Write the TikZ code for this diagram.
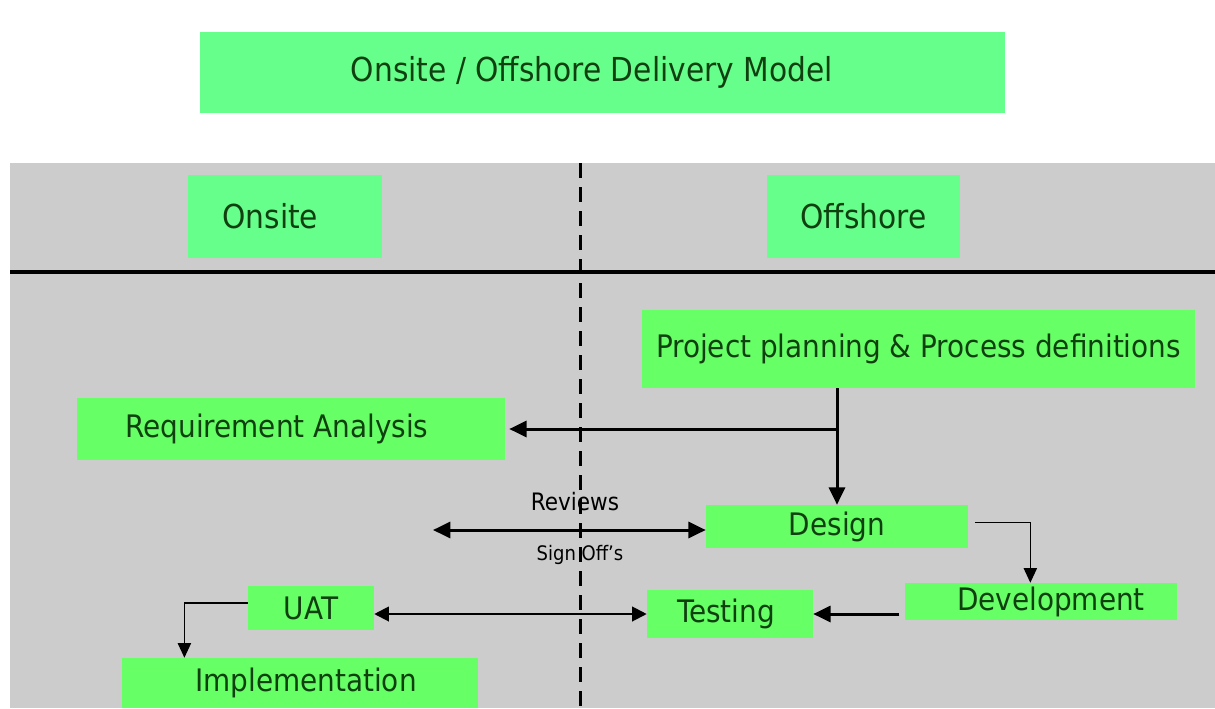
\documentclass[tikz,border=0pt]{standalone}
\usepackage{fontspec}
\setmainfont{DejaVu Sans Condensed}
\usetikzlibrary{arrows.meta}
\definecolor{boxgreen}{RGB}{102,255,102}
\definecolor{headgreen}{RGB}{102,255,140}
\definecolor{bggray}{RGB}{204,204,204}
\definecolor{txtgreen}{RGB}{16,64,16}
\newcommand\pxu{0.75pt}
\newcommand\shiftby[1]{\hspace*{#1}}
\tikzset{
  box/.style={fill=boxgreen, text=txtgreen, inner sep=0pt, font=\fontsize{23.25pt}{28pt}\selectfont},
  headbox/.style={box, fill=headgreen},
  thickarrow/.style={line width=2.25pt, -{Triangle[length=13pt,width=12pt]}},
  thinarrow/.style={line width=0.9pt, -{Triangle[length=11pt,width=10pt]}},
  midarrow/.style={line width=1.5pt, {Triangle[length=11pt,width=11pt]}-{Triangle[length=11pt,width=11pt]}},
  divider/.style={line width=2.25pt, dash pattern=on 11pt off 7pt},
}
\begin{document}
\begin{tikzpicture}[x=0.75pt, y=-0.75pt]
\fill[white] (0,0) rectangle (1215,708);
\useasboundingbox (0,0) rectangle (1215,708);
\fill[bggray] (10,163) rectangle (1215,708);
\draw[line width=2.5pt] (10,272) -- (1215,272);
\draw[divider] (580,163) -- (580,708);

\node[headbox, minimum width={805*\pxu}, minimum height={81*\pxu}, font=\fontsize{24.75pt}{30pt}\selectfont] (title) at (602.5,72.5) {\shiftby{-16pt}Onsite / Offshore Delivery Model};
\node[headbox, minimum width={194*\pxu}, minimum height={83*\pxu}, font=\fontsize{24.75pt}{30pt}\selectfont] (onsite) at (285,216.5) {\shiftby{-22pt}Onsite};
\node[headbox, minimum width={193*\pxu}, minimum height={83*\pxu}, font=\fontsize{24.75pt}{30pt}\selectfont] (offshore) at (863.5,216.5) {Offshore};

\node[box, minimum width={553*\pxu}, minimum height={78*\pxu}] (proj) at (918.5,349) {Project planning \& Process definitions};
\node[box, minimum width={428*\pxu}, minimum height={62*\pxu}] (req) at (291,429) {\shiftby{-21pt}Requirement Analysis};
\node[box, minimum width={262*\pxu}, minimum height={43*\pxu}] (design) at (837,526.5) {Design};
\node[box, minimum width={272*\pxu}, minimum height={37*\pxu}] (dev) at (1041,601.5) {Development\shiftby{-15pt}};
\node[box, minimum width={166*\pxu}, minimum height={48*\pxu}] (test) at (730,614) {\shiftby{-6pt}Testing};
\node[box, minimum width={126*\pxu}, minimum height={44*\pxu}] (uat) at (311,608) {UAT};
\node[box, minimum width={356*\pxu}, minimum height={50*\pxu}] (impl) at (300,683) {Implementation\shiftby{-9pt}};

\node[font=\fontsize{18pt}{22pt}\selectfont, inner sep=0pt] (reviews) at (575,502) {Reviews};
\node[font=\fontsize{15pt}{18pt}\selectfont, inner sep=0pt] (signoff) at (580,555) {Sign Off's};

\coordinate (branch) at (design.north |- req.east);
\coordinate (revL) at (433,530);

\draw[thickarrow] (design.north |- proj.south) -- (design.north);
\draw[thickarrow] (branch) -- ([xshift=3pt]req.east);
\draw[line width=2.25pt, {Triangle[length=13pt,width=12pt]}-{Triangle[length=13pt,width=12pt]}] (revL) -- (design.west |- revL);
\draw[thinarrow] ([xshift=5pt,yshift=3pt]design.east) -| ([xshift=-8pt]dev.north);
\draw[thickarrow] ([xshift=-4pt]dev.west |- test.east) -- (test.east);
\draw[midarrow] (uat.east |- test.west) -- (test.west);
\draw[thinarrow] ([yshift=3.75pt]uat.west) -| ([xshift=47pt]impl.north west);
\end{tikzpicture}
\end{document}
